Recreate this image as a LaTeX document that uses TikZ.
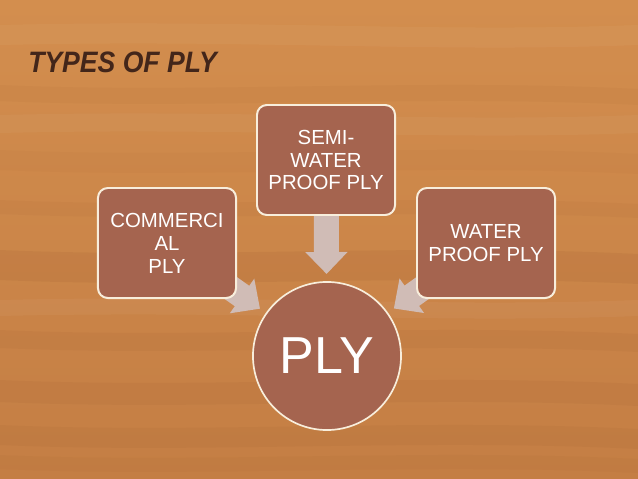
\documentclass[tikz,border=0pt]{standalone}
\usepackage{fontspec}
\usepackage{graphicx}
\setmainfont{Liberation Sans}
\usetikzlibrary{arrows.meta}
\pgfdeclarelayer{wood}
\pgfdeclarelayer{links}
\pgfsetlayers{wood,links,main}
\definecolor{woodlight}{HTML}{D38E4E}
\definecolor{wooddeep}{HTML}{C47E44}
\definecolor{woodgrain}{HTML}{8A4A22}
\definecolor{plyfill}{HTML}{A5644F}
\definecolor{plyedge}{HTML}{F8EEDC}
\definecolor{linkfill}{HTML}{D0BCB6}
\definecolor{titlebrown}{HTML}{43261A}
\tikzset{
  plybox/.style={draw=plyedge, line width=1.4pt, fill=plyfill, rounded corners=7pt,
    minimum width=3.45cm, minimum height=2.75cm, align=center, text=white,
    font=\fontsize{14.5}{16.3}\selectfont, inner sep=2pt},
  plycore/.style={circle, draw=plyedge, line width=1.2pt, fill=plyfill,
    minimum size=3.7cm, text=white, font=\fontsize{37}{40}\selectfont},
  link/.style={draw=linkfill, line width=0.625cm, shorten >=2.05cm,
    -{Triangle[width=1.025cm,length=0.55cm]}}
}
\begin{document}
\begin{tikzpicture}[x=0.025cm, y=-0.025cm]
  \useasboundingbox (0,0) rectangle (638,479);
  % wood panel
  \begin{pgfonlayer}{wood}
    \shade[top color=woodlight, bottom color=wooddeep] (0,0) rectangle (638,479);
    \foreach \y/\h/\o in {85/16/0.05, 150/20/0.04, 200/14/0.05, 250/30/0.10, 330/18/0.07, 380/22/0.08, 425/20/0.07, 455/14/0.05}
      \fill[woodgrain, opacity=\o] (0,\y) .. controls (200,\y+9) and (420,\y-7) .. (638,\y+4)
        -- (638,\y+4+\h) .. controls (420,\y-7+\h) and (200,\y+9+\h) .. (0,\y+\h) -- cycle;
    \foreach \y/\h/\o in {25/20/0.04, 115/18/0.035, 300/16/0.04}
      \fill[white, opacity=\o] (0,\y) .. controls (250,\y-6) and (430,\y+8) .. (638,\y)
        -- (638,\y+\h) .. controls (430,\y+8+\h) and (250,\y-6+\h) .. (0,\y+\h) -- cycle;
  \end{pgfonlayer}
  % title
  \node[anchor=base west, inner sep=0pt, text=titlebrown,
    font=\fontsize{21}{24}\selectfont\bfseries\itshape] (title) at (28,73)
    {\scalebox{0.9}[1]{TYPES OF PLY}};
  % types
  \node[plybox] (commercial) at (167,243) {COMMERCI\\AL\\PLY};
  \node[plybox] (semi) at (326,160) {SEMI-\\WATER\\PROOF PLY};
  \node[plybox] (waterproof) at (486,243) {WATER\\PROOF PLY};
  \node[plycore] (ply) at (327,356) {PLY};
  % connectors
  \begin{pgfonlayer}{links}
    \draw[link] (commercial.center) -- (ply.center);
    \draw[link] (semi.center) -- (ply.center);
    \draw[link] (waterproof.center) -- (ply.center);
  \end{pgfonlayer}
\end{tikzpicture}
\end{document}
